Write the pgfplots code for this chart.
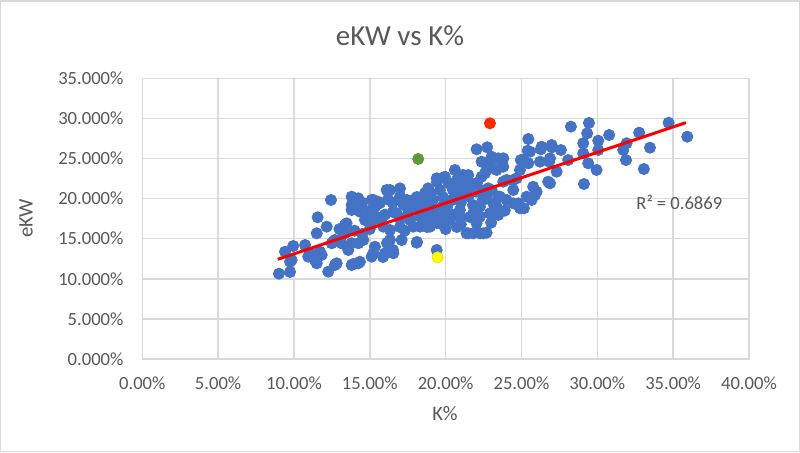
\documentclass[border=0pt]{standalone}
\usepackage{pgfplots}
\pgfplotsset{compat=1.18}
\usepackage{pgfplotstable}
\usepackage{fontspec}
\setmainfont{Carlito}
\definecolor{gridgray}{HTML}{D9D9D9}
\definecolor{txtgray}{HTML}{595959}
\definecolor{ptblue}{HTML}{4472C4}
\definecolor{ptgreen}{RGB}{96,152,58}
\definecolor{ptred}{RGB}{255,40,0}
\definecolor{ptyellow}{HTML}{FFFF00}
\definecolor{trendred}{HTML}{FF0000}

\pgfplotstableread{
x y
29.45 29.43
29.33 28.14
29.07 26.90
30.06 27.22
30.78 27.93
30.06 26.06
29.07 25.65
29.40 24.40
29.95 23.57
29.12 21.82
31.93 26.90
31.71 26.06
31.89 24.81
32.76 28.22
33.47 26.35
33.07 23.69
34.70 29.46
35.93 27.72
28.26 28.97
28.08 24.81
27.60 26.06
27.01 26.40
26.28 26.15
25.45 27.43
25.41 25.97
24.96 24.81
26.22 24.60
26.83 24.60
27.32 23.35
26.76 22.11
25.77 21.48
25.89 20.45
25.16 18.79
24.79 19.41
25.67 19.83
24.46 21.07
24.02 22.32
24.68 22.53
23.69 24.81
23.80 23.98
23.47 25.02
23.03 25.22
22.92 24.40
22.37 24.60
22.04 26.15
22.74 26.40
22.37 22.73
21.49 22.94
20.61 23.57
19.41 22.53
21.27 21.70
22.04 20.86
23.03 21.07
23.47 20.24
23.36 18.99
22.92 18.17
22.26 17.74
22.04 16.92
21.49 15.67
22.26 15.67
22.70 15.75
20.94 17.74
20.28 17.33
19.62 16.92
18.85 17.33
18.31 16.50
18.09 14.50
19.41 13.59
9.01 10.64
9.74 10.85
9.41 13.38
9.95 14.09
9.74 12.13
10.73 14.21
11.06 13.18
11.50 11.93
11.83 12.97
11.50 15.67
11.56 17.67
12.16 16.50
12.44 19.83
12.26 10.89
12.82 11.93
12.59 14.63
13.25 15.67
13.47 16.92
13.80 19.20
14.24 20.04
14.35 18.37
13.58 13.59
13.91 11.85
14.35 12.13
14.57 14.84
15.23 13.18
15.23 19.83
15.56 19.61
15.45 17.74
15.01 17.33
15.89 16.50
16.33 21.07
16.99 21.28
16.33 14.84
16.55 13.18
17.10 14.84
16.77 18.17
17.43 18.99
17.86 19.83
18.85 21.28
19.95 22.73
21.16 22.94
21.38 15.67
18.52 18.17
18.97 16.50
17.65 17.33
17.86 16.50
18.31 17.74
15.67 19.45
16.53 18.33
17.45 19.83
18.11 20.20
18.64 20.70
19.43 22.07
22.06 21.95
22.72 23.57
22.46 19.83
20.74 16.46
19.43 16.96
18.77 16.46
16.99 16.46
16.33 16.08
16.13 14.46
16.53 13.59
18.11 14.59
15.87 12.72
21.14 20.70
20.09 18.95
20.94 18.58
21.60 17.71
18.97 18.95
18.31 18.58
19.62 21.07
20.48 21.07
21.40 21.95
20.74 22.32
19.82 20.20
19.16 19.83
23.80 25.02
23.36 23.57
22.59 23.15
22.04 21.91
22.81 21.28
23.80 22.11
24.46 22.32
24.90 23.57
25.45 24.40
25.12 24.81
25.56 25.85
26.33 26.47
26.99 26.68
26.88 25.02
26.88 21.91
26.00 20.86
25.34 20.24
24.90 18.79
24.46 19.41
24.02 19.83
23.58 20.24
23.14 19.41
22.70 20.04
22.26 18.99
21.82 18.17
23.47 17.96
21.82 15.67
22.48 15.67
13.80 20.24
14.24 19.41
15.12 19.83
15.34 18.99
16.11 21.07
13.80 18.58
14.68 17.33
15.12 17.12
13.36 16.71
13.36 15.67
12.70 14.84
14.24 14.43
15.34 14.00
16.00 13.18
15.12 12.76
14.24 11.93
13.80 11.72
12.70 11.72
11.38 12.34
10.94 12.76
9.85 12.34
11.71 13.38
11.27 12.97
12.49 14.43
13.14 14.43
13.80 14.43
17.00 17.50
17.50 18.00
18.00 19.00
18.60 19.60
19.20 18.30
19.80 19.00
20.40 19.80
20.40 18.00
21.00 19.50
21.50 20.30
21.80 19.20
19.00 17.70
17.20 19.30
16.50 19.50
16.00 18.00
15.80 17.00
17.00 20.30
19.80 17.80
20.80 20.50
22.50 21.00
14.00 16.00
14.50 15.60
15.00 16.20
13.00 16.20
17.30 16.00
20.00 16.20
21.00 16.80
23.00 17.00
23.90 18.50
19.00 20.60
20.20 21.90
21.80 21.00
20.90 21.40
17.80 18.60
16.20 19.90
15.00 18.50
14.50 19.50
}\maindata

\begin{document}
\begin{tikzpicture}
\useasboundingbox (0,0) rectangle (400pt,226pt);
\fill[white] (0,0) rectangle (400pt,226pt);
\begin{axis}[
  at={(71.15pt,46.5pt)}, anchor=south west,
  scale only axis, width=303.35pt, height=140.35pt,
  xmin=0, xmax=40, ymin=0, ymax=35,
  xtick={0,5,...,40}, ytick={0,5,...,35},
  clip=false, clip marker paths=true,
  grid=major,
  major grid style={draw=gridgray, line width=0.75pt},
  axis line style={draw=gridgray, line width=0.75pt},
  major tick length=0pt,
  ticklabel style={font=\fontsize{9.3}{11}\selectfont, text=txtgray},
  /pgf/number format/assume math mode=true,
  xticklabel={\pgfmathprintnumber[fixed,fixed zerofill,precision=2]{\tick}\%},
  yticklabel={\pgfmathprintnumber[fixed,fixed zerofill,precision=3]{\tick}\%},
  xticklabel style={anchor=base, yshift=-15pt},
  yticklabel style={anchor=east, xshift=-5.9pt},
]
\addplot[only marks, mark=*, mark size=2.8pt, color=ptblue] table {\maindata};
\addplot[only marks, mark=*, mark size=2.8pt, draw=ptyellow!90!black, fill=ptyellow] coordinates {(19.47,12.68)};
\addplot[only marks, mark=*, mark size=2.8pt, color=ptgreen] coordinates {(18.19,24.94)};
\addplot[only marks, mark=*, mark size=2.8pt, color=ptred] coordinates {(22.92,29.39)};
\addplot[trendred, line width=1.5pt, mark=none] coordinates {(8.93,12.43) (35.84,29.47)};
\end{axis}
\draw[gridgray, line width=0.75pt] (0.375pt,0.375pt) rectangle (399.625pt,225.625pt);
\node[anchor=base, font=\fontsize{14.5}{17}\selectfont, text=txtgray] at (200pt,203.15pt) {eKW vs K\%};
\node[anchor=base, font=\fontsize{10.3}{12}\selectfont, text=txtgray] at (222.5pt,16pt) {K\%};
\node[rotate=90, anchor=center, font=\fontsize{10.3}{12}\selectfont, text=txtgray] at (13pt,116.75pt) {eKW};
\node[anchor=base west, inner sep=0pt, font=\fontsize{9.3}{11}\selectfont, text=txtgray] at (318pt,121.35pt) {R² = 0.6869};
\end{tikzpicture}
\end{document}
